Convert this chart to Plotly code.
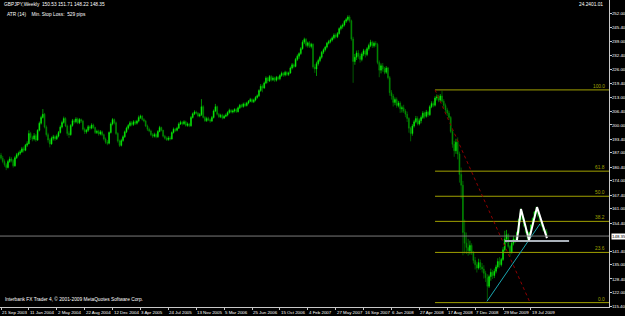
import plotly.graph_objects as go

# ---------------- data (weekly GBPJPY bars) ----------------
opens = [
    186.0,184.5,183.0,181.5,180.2,183.0,184.2,183.5,181.0,184.8,
    186.2,186.8,187.5,188.9,188.2,190.6,191.3,196.0,194.2,193.5,
    195.0,193.0,197.5,200.8,203.5,205.0,199.0,195.5,193.0,191.2,
    193.8,194.5,193.6,194.8,196.5,199.0,201.2,203.0,199.5,196.0,
    195.5,199.8,202.0,201.5,202.8,201.0,202.5,201.8,198.0,196.8,
    197.5,199.2,198.5,200.0,198.8,196.5,197.0,195.8,196.8,195.5,
    193.5,192.0,191.5,196.5,200.5,202.5,201.0,196.0,192.5,190.5,
    192.8,194.5,196.8,198.5,199.8,201.0,200.2,201.5,200.8,201.8,
    203.5,204.0,202.5,201.8,199.5,198.0,197.2,195.5,194.8,195.6,
    194.5,197.0,198.8,197.5,194.8,193.8,193.2,194.0,193.5,196.5,
    198.0,197.5,198.5,200.5,201.2,200.6,201.5,199.8,200.5,199.6,
    203.5,205.2,206.0,205.5,204.2,204.8,208.5,203.5,202.0,203.0,
    202.4,201.8,203.5,206.5,208.5,205.0,203.8,204.5,203.2,204.0,
    204.6,205.8,206.8,206.0,206.5,207.2,206.2,208.0,209.2,208.6,
    209.8,209.0,210.2,211.0,211.8,210.8,211.6,212.8,213.6,216.0,
    218.0,217.2,219.5,221.8,220.5,222.5,221.0,221.8,220.8,222.2,
    221.5,223.0,224.0,223.2,224.5,223.5,224.2,226.5,228.0,227.2,
    230.5,232.0,233.2,235.5,238.5,239.8,237.0,238.2,236.5,237.5,
    227.0,226.0,228.5,230.0,231.5,233.8,235.0,236.2,238.0,238.8,
    239.5,240.5,241.8,241.0,242.5,244.8,245.8,246.5,248.2,249.0,
    250.2,248.5,240.0,229.5,231.5,233.5,232.0,230.5,233.0,234.5,
    232.8,235.5,237.0,238.5,236.8,238.0,237.5,229.0,225.5,227.5,
    226.0,224.5,226.5,222.0,215.0,213.5,210.5,211.8,209.0,210.2,
    207.5,208.0,206.5,205.0,203.0,198.5,196.0,199.5,201.5,203.0,
    200.5,202.0,203.5,205.5,204.0,206.0,204.8,208.5,210.0,209.2,
    212.5,213.0,211.5,213.5,211.0,209.0,207.0,205.5,203.5,197.0,
    191.0,188.0,192.0,186.5,177.0,172.0,150.0,145.0,143.0,141.5,
    144.0,140.5,137.0,135.0,133.5,136.0,134.0,133.0,131.0,129.0,
    125.0,129.5,131.5,130.0,132.0,134.0,136.5,135.0,137.5,142.0,
    147.0,149.0,143.5,141.0,145.0,147.0,146.0,150.0,156.0,159.0,
    156.0,153.0,150.0,147.5,150.0,153.5,156.5,159.5,160.0,157.5,
    155.5,153.0,151.0,150.53,
]
highs = [
    187.0,185.6,184.0,182.3,183.8,185.3,185.0,184.2,185.5,187.0,
    187.6,188.4,189.8,190.0,191.2,192.4,197.5,196.8,195.0,196.2,
    195.8,198.0,201.6,204.3,207.4,205.6,199.8,196.4,193.8,194.6,
    195.4,195.2,195.6,197.2,199.8,202.0,203.9,203.6,200.2,197.0,
    200.4,202.8,202.8,203.6,203.4,203.2,203.0,202.4,198.8,198.2,
    200.0,199.8,200.8,200.6,199.2,197.8,197.8,197.6,197.4,196.0,
    194.2,193.0,197.0,201.2,203.2,203.0,201.6,196.6,193.2,193.6,
    195.2,197.4,199.2,200.4,201.8,201.8,202.2,202.2,202.4,204.4,
    204.8,204.6,203.2,202.4,200.2,198.8,197.8,196.2,196.4,196.2,
    197.6,199.6,199.2,197.8,195.4,194.6,194.8,194.8,197.0,198.8,
    198.6,199.2,201.2,202.0,201.8,202.2,202.0,201.2,201.0,204.2,
    205.8,206.8,206.6,206.0,205.6,212.0,209.2,204.2,203.8,203.8,
    203.0,204.2,207.2,209.8,209.0,205.6,205.2,205.2,204.8,205.4,
    206.4,207.6,207.4,207.2,207.8,207.8,208.6,209.8,209.8,210.4,
    210.6,210.8,211.6,212.6,212.4,212.2,213.4,214.2,216.6,219.0,
    218.8,220.2,222.6,222.4,223.2,223.2,222.6,222.4,222.8,222.8,
    223.6,224.8,224.6,225.2,225.0,224.8,227.2,228.8,228.6,231.2,
    232.8,233.8,236.2,239.4,240.6,240.4,238.8,239.0,238.2,238.0,
    228.2,229.4,230.8,232.2,234.4,235.6,236.8,238.6,239.6,240.2,
    241.2,242.6,242.6,243.2,245.4,246.6,247.2,248.8,249.8,251.0,
    251.0,249.0,241.0,233.0,234.6,234.8,233.2,233.8,235.4,235.2,
    236.2,237.8,239.6,239.2,238.8,239.0,238.2,230.0,228.6,228.8,
    227.0,227.4,227.0,222.8,216.2,214.4,212.8,212.8,211.2,211.0,
    209.0,209.4,207.4,206.2,203.6,199.2,200.4,202.4,204.2,204.0,
    203.0,204.4,206.4,206.2,207.0,206.6,209.2,211.0,211.0,213.4,
    214.2,214.0,214.4,215.9,212.0,210.0,208.0,206.6,204.2,197.8,
    192.6,193.6,194.2,187.6,180.2,174.0,156.0,150.0,147.0,146.2,
    145.0,141.4,138.6,136.4,137.8,137.4,135.8,134.8,132.2,130.6,
    130.4,133.2,132.6,133.2,135.0,138.0,138.6,138.2,143.2,150.8,
    151.2,149.6,144.2,146.0,148.4,148.0,150.5,156.5,161.2,160.0,
    156.8,153.8,150.5,150.5,153.8,157.0,160.0,162.0,160.5,158.0,
    156.0,153.5,151.5,151.71,
]
lows = [
    183.8,182.2,180.6,179.0,179.8,182.4,182.6,180.2,180.6,184.2,
    185.4,186.0,187.0,187.2,187.8,189.8,191.0,193.0,192.4,192.8,
    192.2,192.6,197.0,200.2,203.0,198.4,194.6,191.8,189.6,190.8,
    192.8,192.6,193.0,194.2,196.0,198.4,200.6,199.0,195.0,194.0,
    195.0,199.2,200.6,200.8,200.4,200.4,201.0,197.4,195.8,196.0,
    196.8,197.6,198.0,198.2,195.8,195.8,195.0,195.2,194.8,192.8,
    191.2,190.6,191.0,196.0,199.8,200.2,195.4,191.8,189.8,190.0,
    192.2,194.0,196.2,197.8,199.2,199.4,199.6,200.0,200.2,201.2,
    202.8,202.0,201.2,199.0,197.2,196.6,194.8,194.0,194.2,193.8,
    194.0,196.6,197.0,194.2,193.2,192.6,192.6,192.8,193.2,196.0,
    196.8,197.0,198.2,200.0,199.8,200.0,199.2,199.2,199.0,199.2,
    203.0,204.6,204.8,203.6,203.6,204.2,203.0,201.4,201.4,201.8,
    201.0,201.4,203.0,206.0,204.4,203.2,203.2,202.6,202.8,203.6,
    204.0,205.2,205.4,205.4,205.8,205.6,205.8,207.4,208.0,208.0,
    208.4,208.6,209.6,210.6,210.2,210.2,211.0,212.2,213.0,215.4,
    215.2,216.8,219.0,219.4,220.0,220.2,220.4,220.0,220.2,220.8,
    220.8,222.4,222.4,222.6,222.8,222.8,223.8,225.8,226.4,226.8,
    229.8,230.8,232.6,235.0,237.6,236.2,236.0,235.8,235.6,226.2,
    224.2,222.8,227.6,229.2,230.8,233.0,234.2,235.6,237.4,238.0,
    238.8,239.8,240.2,240.4,242.0,244.0,244.8,245.8,247.4,248.2,
    247.6,239.2,219.6,228.0,230.2,230.8,229.0,229.6,232.0,231.4,
    232.0,234.6,236.2,235.8,236.0,236.4,228.2,222.2,224.0,224.8,
    223.6,223.8,221.2,213.6,211.8,208.6,209.2,208.0,208.2,205.6,
    205.8,205.6,203.6,201.4,196.4,192.4,195.0,198.8,200.8,199.8,
    199.8,200.8,202.8,203.0,203.4,203.8,204.2,207.8,208.2,208.6,
    211.4,210.6,210.8,210.4,207.8,205.8,204.2,202.4,196.2,189.4,
    185.2,186.6,184.0,173.2,165.8,139.4,140.2,140.0,139.2,139.8,
    139.6,135.6,132.8,131.4,132.8,132.6,131.4,128.6,127.0,118.6,
    124.2,127.6,128.4,128.8,131.0,133.2,133.6,134.2,136.8,141.2,
    145.2,142.6,138.8,140.2,144.0,145.0,145.8,149.5,155.5,155.5,
    152.5,149.5,146.5,147.0,149.5,153.0,156.0,158.5,157.0,155.0,
    152.5,150.5,149.5,148.22,
]
closes = [
    184.5,183.0,181.5,180.2,183.0,184.2,183.5,181.0,184.8,186.2,
    186.8,187.5,188.9,188.2,190.6,191.3,196.0,194.2,193.5,195.0,
    193.0,197.5,200.8,203.5,205.0,199.0,195.5,193.0,191.2,193.8,
    194.5,193.6,194.8,196.5,199.0,201.2,203.0,199.5,196.0,195.5,
    199.8,202.0,201.5,202.8,201.0,202.5,201.8,198.0,196.8,197.5,
    199.2,198.5,200.0,198.8,196.5,197.0,195.8,196.8,195.5,193.5,
    192.0,191.5,196.5,200.5,202.5,201.0,196.0,192.5,190.5,192.8,
    194.5,196.8,198.5,199.8,201.0,200.2,201.5,200.8,201.8,203.5,
    204.0,202.5,201.8,199.5,198.0,197.2,195.5,194.8,195.6,194.5,
    197.0,198.8,197.5,194.8,193.8,193.2,194.0,193.5,196.5,198.0,
    197.5,198.5,200.5,201.2,200.6,201.5,199.8,200.5,199.6,203.5,
    205.2,206.0,205.5,204.2,204.8,208.5,203.5,202.0,203.0,202.4,
    201.8,203.5,206.5,208.5,205.0,203.8,204.5,203.2,204.0,204.6,
    205.8,206.8,206.0,206.5,207.2,206.2,208.0,209.2,208.6,209.8,
    209.0,210.2,211.0,211.8,210.8,211.6,212.8,213.6,216.0,218.0,
    217.2,219.5,221.8,220.5,222.5,221.0,221.8,220.8,222.2,221.5,
    223.0,224.0,223.2,224.5,223.5,224.2,226.5,228.0,227.2,230.5,
    232.0,233.2,235.5,238.5,239.8,237.0,238.2,236.5,237.5,227.0,
    226.0,228.5,230.0,231.5,233.8,235.0,236.2,238.0,238.8,239.5,
    240.5,241.8,241.0,242.5,244.8,245.8,246.5,248.2,249.0,250.2,
    248.5,240.0,229.5,231.5,233.5,232.0,230.5,233.0,234.5,232.8,
    235.5,237.0,238.5,236.8,238.0,237.5,229.0,225.5,227.5,226.0,
    224.5,226.5,222.0,215.0,213.5,210.5,211.8,209.0,210.2,207.5,
    208.0,206.5,205.0,203.0,198.5,196.0,199.5,201.5,203.0,200.5,
    202.0,203.5,205.5,204.0,206.0,204.8,208.5,210.0,209.2,212.5,
    213.0,211.5,213.5,211.0,209.0,207.0,205.5,203.5,197.0,191.0,
    188.0,192.0,186.5,177.0,172.0,150.0,145.0,143.0,141.5,144.0,
    140.5,137.0,135.0,133.5,136.0,134.0,133.0,131.0,129.0,125.0,
    129.5,131.5,130.0,132.0,134.0,136.5,135.0,137.5,142.0,147.0,
    149.0,143.5,141.0,145.0,147.0,146.0,150.0,156.0,159.0,156.0,
    153.0,150.0,147.5,150.0,153.5,156.5,159.5,160.0,157.5,155.5,
    153.0,151.0,150.53,148.35,
]

date_labels = ["21 Sep 2003", "11 Jan 2004", "2 May 2004", "22 Aug 2004", "12 Dec 2004",
               "3 Apr 2005", "24 Jul 2005", "13 Nov 2005", "5 Mar 2006", "25 Jun 2006",
               "15 Oct 2006", "4 Feb 2007", "27 May 2007", "16 Sep 2007", "6 Jan 2008",
               "27 Apr 2008", "17 Aug 2008", "7 Dec 2008", "29 Mar 2009", "19 Jul 2009"]
date_label_bars = [0, 16, 32, 48, 64, 80, 96, 112, 128, 144,
                   160, 176, 192, 208, 224, 240, 256, 272, 288, 304]

price_ticks = [252.00, 245.40, 239.00, 232.40, 226.00, 219.40, 213.00, 206.40, 200.00,
               193.40, 187.00, 180.40, 174.00, 167.40, 161.00, 154.40, 141.40, 135.00,
               128.40, 122.00, 115.40]

# Fibonacci retracement drawing (anchors in bar index / price)
fib_bars = [249, 303.5]
fib_prices = [216.3, 117.4]
fib_ratios = [1.0, 0.618, 0.5, 0.382, 0.236, 0.0]
fib_texts = ["100.0", "61.8", "50.0", "38.2", "23.6", "0.0"]

# Trend line (teal) drawing
trend_bars = [278.8, 309.2]
trend_prices = [118.0, 154.0]

# M-top drawing (white)
m_bars = [296.0, 298.3, 302.9, 307.5, 313.2]
m_prices = [146.5, 160.9, 146.5, 161.8, 147.4]

# short silver horizontal drawing
seg_bars = [289.0, 325.9]
seg_price = 146.05

last_price = 148.35
header = "GBPJPY,Weekly  150.53 151.71 148.22 148.35"
indicator_text = "ATR (14)    Min. Stop Loss:  529 pips"
footer = "Interbank FX Trader 4, \u00a9 2001-2009 MetaQuotes Software Corp."
corner_text = "24.2401.01"

# ---------------- figure ----------------
X0, X1 = -0.574, 348.8
Y0, Y1 = 115.36, 258.11
FONT = "Liberation Sans, Arial"
OLIVE = "#a0a000"
FS = 4.4
FS_TXT = 4.8

idx = list(range(len(closes)))
fig = go.Figure()

# Fibonacci level lines
for r, t in zip(fib_ratios, fib_texts):
    lvl = fib_prices[1] + r * (fib_prices[0] - fib_prices[1])
    fig.add_trace(go.Scatter(x=[fib_bars[0], X1], y=[lvl, lvl], mode="lines",
                             line=dict(color=OLIVE, width=1), hoverinfo="skip"))
    fig.add_annotation(x=1, xref="paper", y=lvl, yref="y", text=t, showarrow=False,
                       xanchor="right", yanchor="bottom", xshift=-2, yshift=-1,
                       font=dict(color=OLIVE, size=FS_TXT, family=FONT))

# bid line
fig.add_shape(type="line", xref="paper", x0=0, x1=1, yref="y", y0=last_price, y1=last_price,
              line=dict(color="#7a7a7a", width=1))

fig.add_trace(go.Candlestick(
    x=idx, open=opens, high=highs, low=lows, close=closes,
    increasing=dict(line=dict(color="#00ee00", width=0.6), fillcolor="#22ff22"),
    decreasing=dict(line=dict(color="#009400", width=0.6), fillcolor="#008800"),
    whiskerwidth=0, hoverinfo="skip"))

# Fibonacci dotted red line
fig.add_trace(go.Scatter(x=fib_bars, y=fib_prices, mode="lines",
                         line=dict(color="#900000", width=1, dash="dot"), hoverinfo="skip"))
# teal trendline
fig.add_trace(go.Scatter(x=trend_bars, y=trend_prices, mode="lines",
                         line=dict(color="#1aa6b0", width=1), hoverinfo="skip"))
# silver segment
fig.add_trace(go.Scatter(x=seg_bars, y=[seg_price, seg_price], mode="lines",
                         line=dict(color="#aab2ba", width=2), hoverinfo="skip"))
# M pattern
fig.add_trace(go.Scatter(x=m_bars, y=m_prices, mode="lines",
                         line=dict(color="#ffffff", width=2), hoverinfo="skip"))

# date labels
for b, t in zip(date_label_bars, date_labels):
    fig.add_annotation(x=b, xref="x", y=0, yref="paper", text=t, showarrow=False,
                       xanchor="left", yanchor="top", yshift=-1, xshift=-1,
                       font=dict(color="white", size=FS, family=FONT))

# current price box
fig.add_annotation(x=1, xref="paper", y=last_price, yref="y", text="148.35", showarrow=False,
                   xanchor="left", yanchor="middle", xshift=2, bgcolor="white", borderpad=0,
                   font=dict(color="black", size=FS, family=FONT))

# texts
W, H = 609.0, 307.0
def ptext(px, py, text, anchor="left"):
    fig.add_annotation(x=px / W, y=1 - py / H, xref="paper", yref="paper", text=text,
                       showarrow=False, xanchor=anchor, yanchor="middle",
                       font=dict(color="white", size=FS_TXT, family=FONT))

ptext(2, 4, header)
ptext(5, 14, indicator_text)
ptext(3, 299, footer)
ptext(605, 4, corner_text, anchor="right")

fig.update_layout(
    width=625, height=316, margin=dict(l=0, r=16, t=0, b=9),
    paper_bgcolor="black", plot_bgcolor="black", showlegend=False,
    xaxis=dict(range=[X0, X1], showgrid=False, zeroline=False, showline=True,
               linecolor="#c8c8c8", linewidth=1, ticks="outside", ticklen=2,
               tickcolor="#c8c8c8", tickvals=date_label_bars, showticklabels=False,
               rangeslider=dict(visible=False), automargin=False),
    yaxis=dict(range=[Y0, Y1], side="right", showgrid=False, zeroline=False, showline=True,
               linecolor="#c8c8c8", linewidth=1, ticks="outside", ticklen=2,
               tickcolor="#c8c8c8", tickvals=price_ticks,
               ticktext=["%.2f" % v for v in price_ticks], ticklabelstandoff=-1,
               tickfont=dict(color="white", size=FS, family=FONT), automargin=False),
)

fig.write_html("out.html")
